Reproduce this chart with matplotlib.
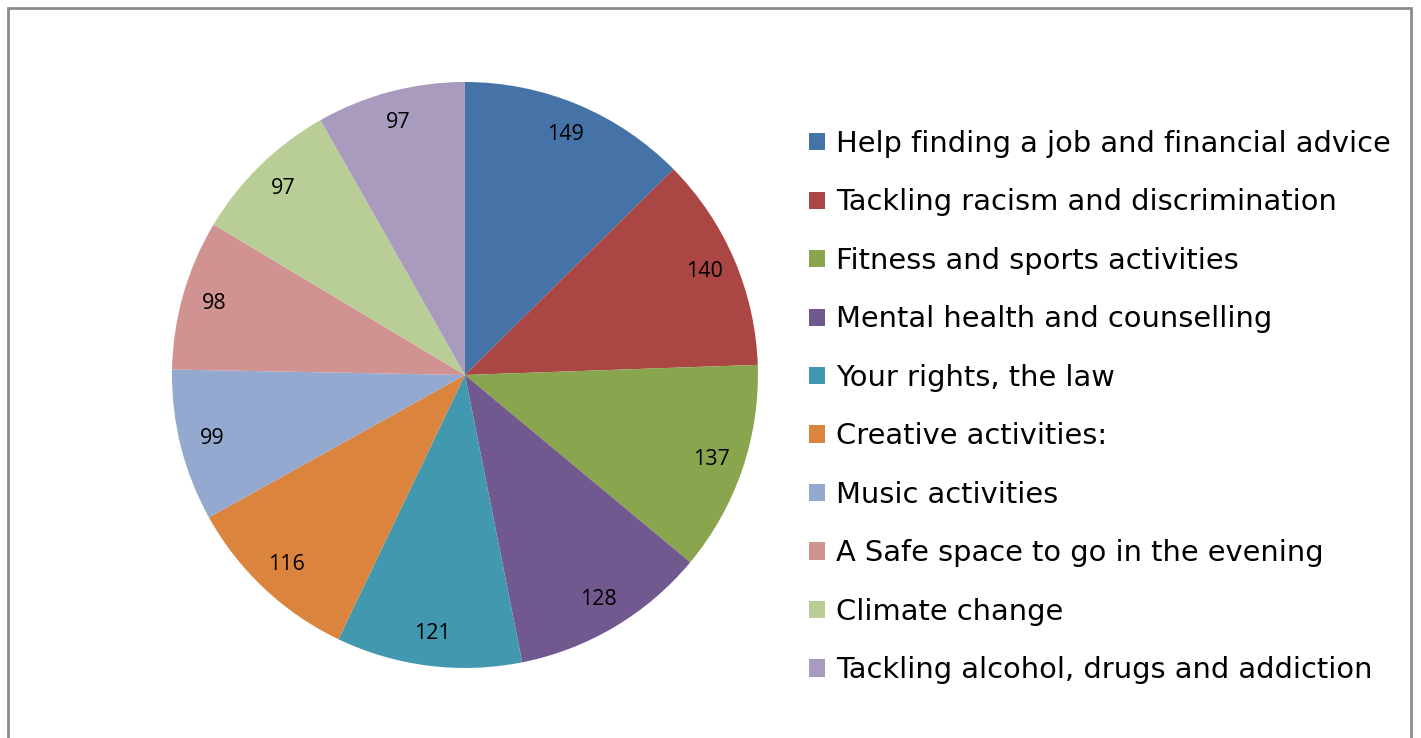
import matplotlib
matplotlib.use("Agg")
import matplotlib.pyplot as plt
from matplotlib.patches import Rectangle

### data
categories = ["Help finding a job and financial advice",
              "Tackling racism and discrimination",
              "Fitness and sports activities",
              "Mental health and counselling",
              "Your rights, the law",
              "Creative activities:",
              "Music activities",
              "A Safe space to go in the evening",
              "Climate change",
              "Tackling alcohol, drugs and addiction"]
values = [149, 140, 137, 128, 121, 116, 99, 98, 97, 97]
colors = ["#4572A7", "#AA4643", "#89A54E", "#71588F", "#4198AF",
          "#DB843D", "#93A9CF", "#D19392", "#B9CD96", "#A99BBD"]

### figure
fig = plt.figure(figsize=(14.21, 7.38), dpi=100)
# grey frame round the chart (bottom edge is cut off in the original)
fig.patches.append(Rectangle((8/1421, -0.05), (1411-8)/1421, (738-8)/738 + 0.05,
                             transform=fig.transFigure, fill=False,
                             edgecolor="#8c8c8c", linewidth=2))

ax = fig.add_axes([0.121, 0.0949, 0.4124, 0.794])
wedges, texts = ax.pie(values, colors=colors, startangle=90, counterclock=False,
                       labels=[str(v) for v in values], labeldistance=0.89,
                       textprops={"fontsize": 15.5, "family": "Open Sans"})
for t in texts:
    t.set_horizontalalignment("center")
    t.set_verticalalignment("center")
ax.set_xlim(-1, 1)
ax.set_ylim(-1, 1)
ax.set_aspect("equal")

leg = fig.legend(wedges, categories, loc="upper left",
                 bbox_to_anchor=(809/1421, 1 - 130/738), frameon=False,
                 prop={"family": "DejaVu Sans", "size": 20.8},
                 handlelength=0.55, handleheight=0.55, handletextpad=0.4,
                 labelspacing=1.055, borderpad=0, borderaxespad=0)

fig.savefig("out.png", dpi=100)
